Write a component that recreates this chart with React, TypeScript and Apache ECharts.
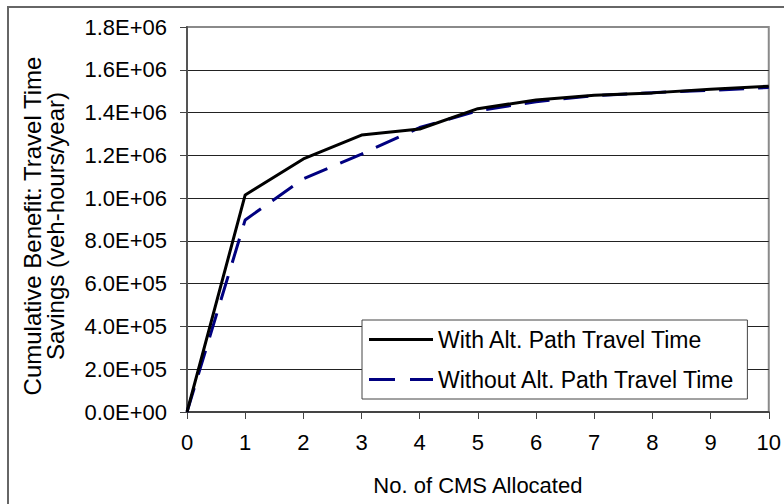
import React, { useEffect, useRef } from "react";
import * as echarts from "echarts";

// CMS count on the x axis
const cmsCounts = [0, 1, 2, 3, 4, 5, 6, 7, 8, 9, 10];
// Cumulative travel time savings (veh-hours/year)
const withAltPath = [0, 1.015e6, 1.183e6, 1.295e6, 1.323e6, 1.418e6, 1.459e6, 1.481e6, 1.492e6, 1.509e6, 1.523e6];
const withoutAltPath = [0, 0.898e6, 1.09e6, 1.206e6, 1.33e6, 1.408e6, 1.451e6, 1.479e6, 1.493e6, 1.504e6, 1.517e6];

const seriesNames = ["With Alt. Path Travel Time", "Without Alt. Path Travel Time"];
const xTitle = "No. of CMS Allocated";
const yTitleLines = ["Cumulative Benefit: Travel Time", "Savings (veh-hours/year)"];

const FONT = "'Liberation Sans', Arial, sans-serif";

// Legend swatches: a solid bar and a two-dash bar
const SOLID_ICON = "path://M0,0H64V3H0Z";
const DASHED_ICON = "path://M0,0H26V3H0Z M41,0H64V3H41Z";

// 1.8E+06 style labels
function sci(v: number): string {
  const [m, e] = v.toExponential(1).split("e");
  const sign = e[0] === "-" ? "-" : "+";
  const digits = e.replace(/[+-]/, "").padStart(2, "0");
  return `${m}E${sign}${digits}`;
}

export default function App() {
  const ref = useRef<HTMLDivElement>(null);

  useEffect(() => {
    if (!ref.current) return;
    const chart = echarts.init(ref.current, null, { renderer: "svg" });
    chart.setOption({
      animation: false,
      backgroundColor: "#ffffff",
      grid: {
        left: 187,
        right: 12,
        top: 27,
        bottom: 92,
        show: true,
        borderColor: "#8a8a8a",
        borderWidth: 2,
        backgroundColor: "transparent",
      },
      xAxis: {
        type: "value",
        min: 0,
        max: 10,
        interval: 1,
        name: xTitle,
        nameLocation: "middle",
        nameGap: 62,
        nameTextStyle: { fontFamily: FONT, fontSize: 22, color: "#000" },
        axisLine: { lineStyle: { color: "#444", width: 2 } },
        axisTick: { show: true, inside: false, length: 7, lineStyle: { color: "#444", width: 1 } },
        axisLabel: { fontFamily: FONT, fontSize: 22, color: "#000", margin: 19 },
        splitLine: { show: false },
      },
      yAxis: {
        type: "value",
        min: 0,
        max: 1.8e6,
        interval: 2e5,
        axisLine: { show: true, lineStyle: { color: "#555", width: 2 } },
        axisTick: { show: true, inside: false, length: 7, lineStyle: { color: "#444", width: 1 } },
        axisLabel: { fontFamily: FONT, fontSize: 22, color: "#000", margin: 20, formatter: sci },
        splitLine: { show: true, showMinLine: false, showMaxLine: false, lineStyle: { color: "#222", width: 1 } },
      },
      legend: {
        orient: "vertical",
        left: 362,
        top: 320,
        padding: [8, 12, 8, 7],
        itemGap: 17,
        itemWidth: 64,
        itemHeight: 3,
        backgroundColor: "#fff",
        borderColor: "#444",
        borderWidth: 1,
        borderRadius: 0,
        textStyle: { fontFamily: FONT, fontSize: 23, color: "#000" },
        data: [
          { name: seriesNames[0], icon: SOLID_ICON, itemStyle: { color: "#000", borderWidth: 0 } },
          { name: seriesNames[1], icon: DASHED_ICON, itemStyle: { color: "#000080", borderWidth: 0 } },
        ],
      },
      series: [
        {
          name: seriesNames[0],
          type: "line",
          symbol: "none",
          data: cmsCounts.map((x, i) => [x, withAltPath[i]]),
          lineStyle: { color: "#000", width: 3 },
          itemStyle: { color: "#000" },
          z: 3,
        },
        {
          name: seriesNames[1],
          type: "line",
          symbol: "none",
          data: cmsCounts.map((x, i) => [x, withoutAltPath[i]]),
          lineStyle: { color: "#000080", width: 3, type: [25, 14] },
          itemStyle: { color: "#000080" },
          z: 2,
        },
      ],
      graphic: [
        {
          type: "rect",
          silent: true,
          shape: { x: 8, y: 7, width: 820, height: 620 },
          style: { fill: "none", stroke: "#666", lineWidth: 2 },
          z: -10,
        },
        {
          type: "text",
          x: 44,
          y: 226,
          rotation: Math.PI / 2,
          style: {
            text: yTitleLines.join("\n"),
            fontFamily: FONT,
            fontSize: 24,
            lineHeight: 23,
            fill: "#000",
            align: "center",
            verticalAlign: "middle",
          },
        },
      ],
    });
    return () => chart.dispose();
  }, []);

  return (
    <div
      ref={ref}
      style={{ position: "fixed", left: 0, top: 0, width: 784, height: 504, background: "#fff" }}
    />
  );
}
